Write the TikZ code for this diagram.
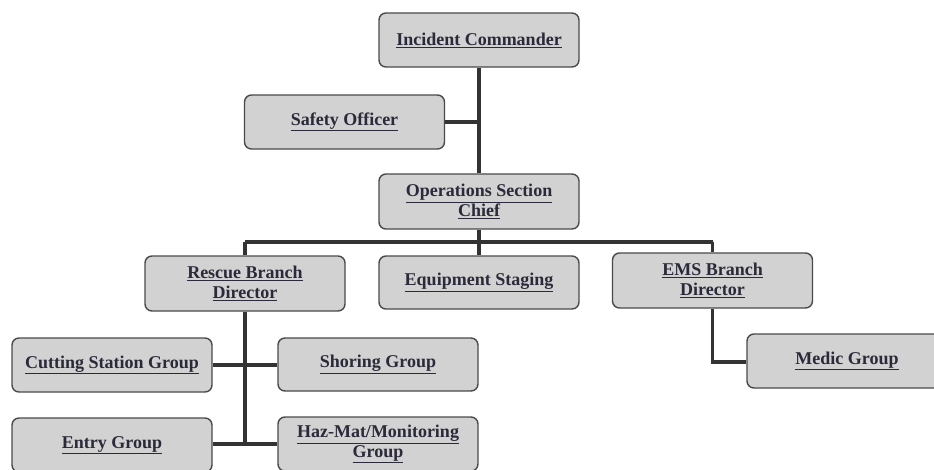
\documentclass[tikz,border=0pt]{standalone}
\usepackage{fontspec}
\setmainfont{Liberation Serif}
\definecolor{boxfill}{HTML}{D2D2D2}
\definecolor{boxline}{HTML}{4A4A4A}
\definecolor{txt}{HTML}{2A2A3A}
\definecolor{wire}{HTML}{333333}
\begin{document}
\begin{tikzpicture}[x=1pt,y=-1pt,
  orgbox/.style={draw=boxline, line width=1.4pt, fill=boxfill, rounded corners=7pt,
    minimum width=200pt, minimum height=54pt, align=center, text=txt,
    font=\fontsize{18}{19.5}\selectfont\bfseries, inner sep=0pt},
  wireline/.style={draw=wire, line width=3.2pt}]
\useasboundingbox (0,0) rectangle (934,469);
\clip (0,0) rectangle (934,469);
\node[orgbox] (ic) at (479,40) {\underline{Incident Commander}};
\node[orgbox] (so) at (344.5,122) {\underline{Safety Officer}};
\node[orgbox, minimum height=55pt] (osc) at (479,201.5) {\underline{Operations Section}\\[0pt]\underline{Chief}};
\node[orgbox, minimum height=55pt] (rbd) at (245,283.5) {\underline{Rescue Branch}\\[0pt]\underline{Director}};
\node[orgbox, minimum height=53pt] (es) at (479,282.5) {\underline{Equipment Staging}};
\node[orgbox, minimum height=55pt] (ems) at (712.5,280.5) {\underline{EMS Branch}\\[0pt]\underline{Director}};
\node[orgbox] (medic) at (847,361) {\underline{Medic Group}};
\node[orgbox] (csg) at (112,365) {\underline{Cutting Station Group}};
\node[orgbox, minimum height=53pt] (sg) at (378,364.5) {\underline{Shoring Group}};
\node[orgbox] (eg) at (112,445) {\underline{Entry Group}};
\node[orgbox] (hm) at (378,444) {\underline{Haz-Mat/Monitoring}\\[0pt]\underline{Group}};
\coordinate (soj) at (479,122);
\coordinate (barm) at (479,242);
\coordinate (barl) at (245,242);
\coordinate (barr) at (712.5,242);
\coordinate (cj) at (245,365);
\coordinate (ej) at (245,444);
\coordinate (mj) at (712.5,362);
\draw[wireline] (ic.south) -- (osc.north);
\draw[wireline] (so.east) -- (soj);
\draw[wireline] (osc.south) -- (barm);
\draw[wireline] (barl) -- (barr);
\draw[wireline] (barl) -- (rbd.north);
\draw[wireline] (barm) -- (es.north);
\draw[wireline] (barr) -- (ems.north);
\draw[wireline] (rbd.south) -- (ej);
\draw[wireline] (csg.east |- cj) -- (cj) -- (sg.west |- cj);
\draw[wireline] (eg.east |- ej) -- (ej) -- (hm.west |- ej);
\draw[wireline] (ems.south) -- (mj) -- (medic.west |- mj);
\end{tikzpicture}
\end{document}
